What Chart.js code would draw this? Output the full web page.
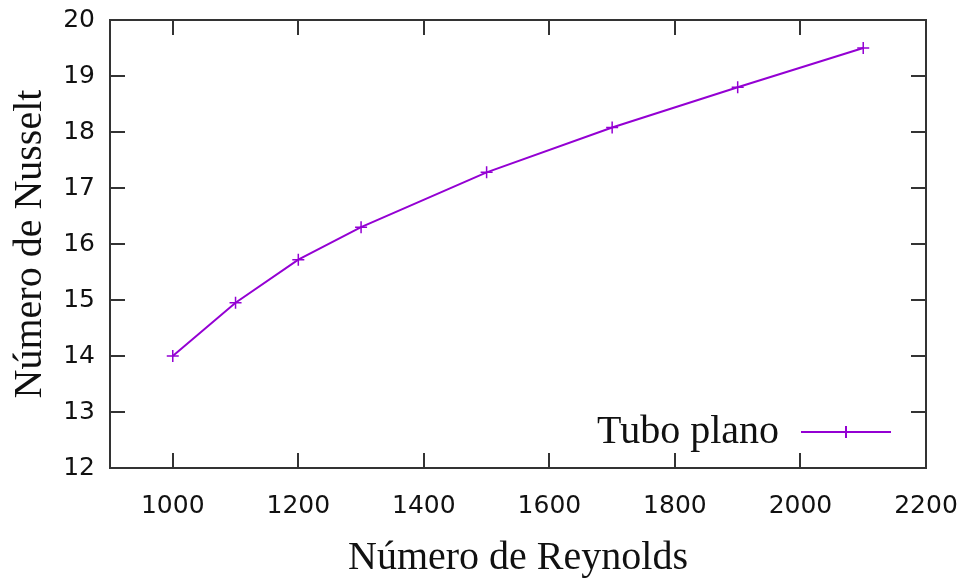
<!DOCTYPE html>
<html>
<head>
<meta charset="utf-8">
<script src="https://cdn.jsdelivr.net/npm/chart.js@4.4.1/dist/chart.umd.min.js"></script>
<style>
    html, body { margin: 0; padding: 0; background: #fff; }
    #wrap { width: 968px; height: 582px; }
</style>
</head>
<body>
<div id="wrap"><canvas id="chart" width="968" height="582"></canvas></div>
<script>
// ========================================
// DATA
// ========================================

const reynolds = [1000, 1100, 1200, 1300, 1500, 1700, 1900, 2100];
const nusselt = [14.0, 14.95, 15.72, 16.3, 17.28, 18.08, 18.8, 19.5];
const xTicks = [1000, 1200, 1400, 1600, 1800, 2000, 2200];
const yTicks = [12, 13, 14, 15, 16, 17, 18, 19, 20];
const seriesLabel = 'Tubo plano';

const COLORS = {
    line: '#9400D3',
    axis: '#333333',
    text: '#111111'
};

const SERIF = "'Liberation Serif', 'Times New Roman', serif";
const SANS = "'DejaVu Sans', sans-serif";

// ========================================
// PLUGIN: frame, inward ticks, legend
// ========================================

const frame = {
    id: 'frame',
    afterDraw(chart) {
        const { ctx, chartArea: a, scales } = chart;
        const tick = 15;
        ctx.save();
        ctx.strokeStyle = COLORS.axis;
        ctx.lineWidth = 2;
        ctx.strokeRect(a.left, a.top, a.right - a.left, a.bottom - a.top);

        ctx.lineWidth = 2;
        ctx.beginPath();
        xTicks.forEach(v => {
            const x = Math.round(scales.x.getPixelForValue(v));
            ctx.moveTo(x, a.bottom); ctx.lineTo(x, a.bottom - tick);
            ctx.moveTo(x, a.top); ctx.lineTo(x, a.top + tick);
        });
        yTicks.forEach(v => {
            const y = Math.round(scales.y.getPixelForValue(v));
            ctx.moveTo(a.left, y); ctx.lineTo(a.left + tick, y);
            ctx.moveTo(a.right, y); ctx.lineTo(a.right - tick, y);
        });
        ctx.stroke();

        // legend (bottom right, inside plot)
        const ly = a.bottom - 36;
        const x1 = a.right - 125, x2 = a.right - 35;
        ctx.font = '40px ' + SERIF;
        ctx.fillStyle = COLORS.text;
        ctx.textAlign = 'right';
        ctx.textBaseline = 'alphabetic';
        ctx.fillText(seriesLabel, x1 - 22, ly + 11);

        ctx.strokeStyle = COLORS.line;
        ctx.lineWidth = 2;
        ctx.beginPath();
        ctx.moveTo(x1, ly); ctx.lineTo(x2, ly);
        const cx = (x1 + x2) / 2;
        ctx.moveTo(cx - 6, ly); ctx.lineTo(cx + 6, ly);
        ctx.moveTo(cx, ly - 6); ctx.lineTo(cx, ly + 6);
        ctx.stroke();
        ctx.restore();
    }
};

// ========================================
// CHART
// ========================================

const points = reynolds.map((x, i) => ({ x, y: nusselt[i] }));

new Chart(document.getElementById('chart'), {
    type: 'scatter',
    data: {
        datasets: [{
            label: seriesLabel,
            data: points,
            showLine: true,
            borderColor: COLORS.line,
            backgroundColor: COLORS.line,
            borderWidth: 2,
            pointStyle: 'cross',
            pointRadius: 6,
            pointBorderWidth: 1.5,
            tension: 0
        }]
    },
    options: {
        responsive: false,
        animation: false,
        layout: { padding: { top: 20, right: 42, bottom: 0, left: 0 } },
        plugins: {
            legend: { display: false },
            tooltip: { enabled: false }
        },
        scales: {
            x: {
                type: 'linear',
                min: 900,
                max: 2200,
                afterBuildTicks: s => { s.ticks = xTicks.map(v => ({ value: v })); },
                afterFit: s => { s.height = 114; s.paddingLeft = 0; s.paddingRight = 0; },
                grid: { display: false, drawTicks: false },
                border: { display: false },
                ticks: {
                    padding: 23,
                    color: COLORS.text,
                    font: { family: SANS, size: 25 },
                    maxRotation: 0,
                    callback: v => String(v)
                },
                title: {
                    display: true,
                    text: 'Número de Reynolds',
                    color: COLORS.text,
                    font: { family: SERIF, size: 40, lineHeight: 1.2 },
                    padding: { top: 0, bottom: 0 }
                }
            },
            y: {
                type: 'linear',
                min: 12,
                max: 20,
                afterBuildTicks: s => { s.ticks = yTicks.map(v => ({ value: v })); },
                afterFit: s => { s.width = 110; s.paddingTop = 0; s.paddingBottom = 0; },
                grid: { display: false, drawTicks: false },
                border: { display: false },
                ticks: {
                    padding: 15,
                    color: COLORS.text,
                    font: { family: SANS, size: 25 },
                    callback: v => String(v)
                },
                title: {
                    display: true,
                    text: 'Número de Nusselt',
                    color: COLORS.text,
                    font: { family: SERIF, size: 40, lineHeight: 1.2 },
                    padding: { top: 6, bottom: 0 }
                }
            }
        }
    },
    plugins: [frame]
});
</script>
</body>
</html>
